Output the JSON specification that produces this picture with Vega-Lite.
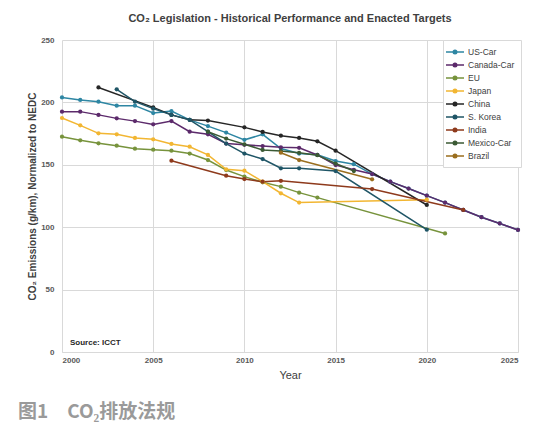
{
  "$schema": "https://vega.github.io/schema/vega-lite/v6.json",
  "width": 456,
  "height": 312,
  "autosize": "none",
  "padding": {"left": 62, "top": 40, "right": 38, "bottom": 83},
  "background": "white",
  "config": {
    "font": "Liberation Sans",
    "view": {"stroke": null},
    "axis": {"gridColor": "#d9d9d9", "gridWidth": 1, "domainColor": "#d9d9d9", "ticks": false, "labelColor": "#595959", "labelFontSize": 8, "labelFontWeight": "bold"}
  },
  "title": {
    "text": "CO₂ Legislation - Historical Performance and Enacted Targets",
    "fontSize": 11,
    "fontWeight": "bold",
    "color": "#404040",
    "anchor": "middle",
    "offset": 12
  },
  "datasets": {
    "d": [
      {"c": "US-Car", "year": 2000, "v": 204},
      {"c": "US-Car", "year": 2001, "v": 202},
      {"c": "US-Car", "year": 2002, "v": 200.6},
      {"c": "US-Car", "year": 2003, "v": 197.4},
      {"c": "US-Car", "year": 2004, "v": 197.4},
      {"c": "US-Car", "year": 2005, "v": 191.5},
      {"c": "US-Car", "year": 2006, "v": 193},
      {"c": "US-Car", "year": 2007, "v": 186},
      {"c": "US-Car", "year": 2008, "v": 181},
      {"c": "US-Car", "year": 2009, "v": 175.8},
      {"c": "US-Car", "year": 2010, "v": 170},
      {"c": "US-Car", "year": 2011, "v": 174.4},
      {"c": "US-Car", "year": 2012, "v": 163},
      {"c": "US-Car", "year": 2013, "v": 159},
      {"c": "US-Car", "year": 2014, "v": 158},
      {"c": "US-Car", "year": 2015, "v": 153},
      {"c": "US-Car", "year": 2016, "v": 150.5},
      {"c": "US-Car", "year": 2017, "v": 142.6},
      {"c": "US-Car", "year": 2018, "v": 136.5},
      {"c": "US-Car", "year": 2019, "v": 131},
      {"c": "US-Car", "year": 2020, "v": 125.3},
      {"c": "US-Car", "year": 2021, "v": 119.7},
      {"c": "US-Car", "year": 2022, "v": 113.8},
      {"c": "US-Car", "year": 2023, "v": 108},
      {"c": "US-Car", "year": 2024, "v": 103},
      {"c": "US-Car", "year": 2025, "v": 97.8},
      {"c": "Canada-Car", "year": 2000, "v": 192.6},
      {"c": "Canada-Car", "year": 2001, "v": 192.6},
      {"c": "Canada-Car", "year": 2002, "v": 190},
      {"c": "Canada-Car", "year": 2003, "v": 187.2},
      {"c": "Canada-Car", "year": 2004, "v": 185},
      {"c": "Canada-Car", "year": 2005, "v": 182.4},
      {"c": "Canada-Car", "year": 2006, "v": 185},
      {"c": "Canada-Car", "year": 2007, "v": 176.5},
      {"c": "Canada-Car", "year": 2008, "v": 174.4},
      {"c": "Canada-Car", "year": 2009, "v": 167},
      {"c": "Canada-Car", "year": 2010, "v": 166},
      {"c": "Canada-Car", "year": 2011, "v": 165},
      {"c": "Canada-Car", "year": 2012, "v": 164},
      {"c": "Canada-Car", "year": 2013, "v": 163.6},
      {"c": "Canada-Car", "year": 2014, "v": 157.9},
      {"c": "Canada-Car", "year": 2015, "v": 149.8},
      {"c": "Canada-Car", "year": 2016, "v": 146},
      {"c": "Canada-Car", "year": 2017, "v": 142.6},
      {"c": "Canada-Car", "year": 2018, "v": 136.5},
      {"c": "Canada-Car", "year": 2019, "v": 131},
      {"c": "Canada-Car", "year": 2020, "v": 125.3},
      {"c": "Canada-Car", "year": 2021, "v": 119.7},
      {"c": "Canada-Car", "year": 2022, "v": 113.8},
      {"c": "Canada-Car", "year": 2023, "v": 108},
      {"c": "Canada-Car", "year": 2024, "v": 103},
      {"c": "Canada-Car", "year": 2025, "v": 97.8},
      {"c": "EU", "year": 2000, "v": 172.5},
      {"c": "EU", "year": 2001, "v": 169.6},
      {"c": "EU", "year": 2002, "v": 167.2},
      {"c": "EU", "year": 2003, "v": 165.3},
      {"c": "EU", "year": 2004, "v": 162.9},
      {"c": "EU", "year": 2005, "v": 162.1},
      {"c": "EU", "year": 2006, "v": 161.3},
      {"c": "EU", "year": 2007, "v": 159},
      {"c": "EU", "year": 2008, "v": 153.8},
      {"c": "EU", "year": 2009, "v": 145.8},
      {"c": "EU", "year": 2010, "v": 140.5},
      {"c": "EU", "year": 2011, "v": 136},
      {"c": "EU", "year": 2012, "v": 132.5},
      {"c": "EU", "year": 2013, "v": 127.7},
      {"c": "EU", "year": 2014, "v": 123.7},
      {"c": "EU", "year": 2021, "v": 95},
      {"c": "Japan", "year": 2000, "v": 187.5},
      {"c": "Japan", "year": 2001, "v": 181.6},
      {"c": "Japan", "year": 2002, "v": 175.2},
      {"c": "Japan", "year": 2003, "v": 174.4},
      {"c": "Japan", "year": 2004, "v": 171.5},
      {"c": "Japan", "year": 2005, "v": 170.4},
      {"c": "Japan", "year": 2006, "v": 166.7},
      {"c": "Japan", "year": 2007, "v": 164.5},
      {"c": "Japan", "year": 2008, "v": 157.9},
      {"c": "Japan", "year": 2009, "v": 146.4},
      {"c": "Japan", "year": 2010, "v": 145.3},
      {"c": "Japan", "year": 2011, "v": 136.5},
      {"c": "Japan", "year": 2012, "v": 127.2},
      {"c": "Japan", "year": 2013, "v": 119.7},
      {"c": "Japan", "year": 2020, "v": 122},
      {"c": "China", "year": 2002, "v": 212},
      {"c": "China", "year": 2005, "v": 196},
      {"c": "China", "year": 2006, "v": 190},
      {"c": "China", "year": 2007, "v": 186},
      {"c": "China", "year": 2008, "v": 185.4},
      {"c": "China", "year": 2010, "v": 180},
      {"c": "China", "year": 2011, "v": 176.3},
      {"c": "China", "year": 2012, "v": 173.3},
      {"c": "China", "year": 2013, "v": 171.5},
      {"c": "China", "year": 2014, "v": 168.8},
      {"c": "China", "year": 2015, "v": 161.3},
      {"c": "China", "year": 2020, "v": 117.8},
      {"c": "S. Korea", "year": 2003, "v": 210.5},
      {"c": "S. Korea", "year": 2004, "v": 200.6},
      {"c": "S. Korea", "year": 2005, "v": 195},
      {"c": "S. Korea", "year": 2006, "v": 190},
      {"c": "S. Korea", "year": 2007, "v": 186},
      {"c": "S. Korea", "year": 2008, "v": 176.5},
      {"c": "S. Korea", "year": 2009, "v": 167},
      {"c": "S. Korea", "year": 2010, "v": 159},
      {"c": "S. Korea", "year": 2011, "v": 154.6},
      {"c": "S. Korea", "year": 2012, "v": 147.2},
      {"c": "S. Korea", "year": 2013, "v": 147.2},
      {"c": "S. Korea", "year": 2015, "v": 145},
      {"c": "S. Korea", "year": 2020, "v": 98},
      {"c": "India", "year": 2006, "v": 153.3},
      {"c": "India", "year": 2009, "v": 141.3},
      {"c": "India", "year": 2010, "v": 138.6},
      {"c": "India", "year": 2011, "v": 136.5},
      {"c": "India", "year": 2012, "v": 137.2},
      {"c": "India", "year": 2017, "v": 130.6},
      {"c": "India", "year": 2022, "v": 113.8},
      {"c": "Mexico-Car", "year": 2008, "v": 176.5},
      {"c": "Mexico-Car", "year": 2009, "v": 171},
      {"c": "Mexico-Car", "year": 2010, "v": 166.4},
      {"c": "Mexico-Car", "year": 2011, "v": 161.9},
      {"c": "Mexico-Car", "year": 2012, "v": 161},
      {"c": "Mexico-Car", "year": 2013, "v": 159.6},
      {"c": "Mexico-Car", "year": 2014, "v": 157.7},
      {"c": "Mexico-Car", "year": 2015, "v": 151},
      {"c": "Mexico-Car", "year": 2016, "v": 145},
      {"c": "Brazil", "year": 2012, "v": 159.7},
      {"c": "Brazil", "year": 2013, "v": 153.8},
      {"c": "Brazil", "year": 2017, "v": 138.4}
    ],
    "notes": [
      {"label": "Source: ICCT", "year": 2000, "v": 0}
    ],
    "caption": [
      {"label": "图1\u2003CO₂排放法规", "year": 2000, "v": 0}
    ]
  },
  "layer": [
    {
      "data": {"name": "d"},
      "mark": {"type": "line", "strokeWidth": 1.5, "point": {"filled": true, "size": 18}},
      "encoding": {
        "x": {
          "field": "year", "type": "quantitative",
          "scale": {"domain": [2000, 2025], "nice": false, "zero": false},
          "axis": {"values": [2000, 2005, 2010, 2015, 2020, 2025], "format": "d", "title": "Year", "titleFontSize": 11, "titleFontWeight": "normal", "titleColor": "#404040", "titlePadding": 5, "labelPadding": 4}
        },
        "y": {
          "field": "v", "type": "quantitative",
          "scale": {"domain": [0, 250], "nice": false},
          "axis": {"values": [0, 50, 100, 150, 200, 250], "title": "CO₂ Emissions (g/km), Normalized to NEDC", "titleFontSize": 10, "titleFontWeight": "bold", "titleColor": "#404040", "titlePadding": 3, "labelPadding": 8, "domain": false}
        },
        "color": {
          "field": "c", "type": "nominal",
          "scale": {
            "domain": ["US-Car", "Canada-Car", "EU", "Japan", "China", "S. Korea", "India", "Mexico-Car", "Brazil"],
            "range": ["#2e86a3", "#5c2a6b", "#77933c", "#f2b632", "#262626", "#1f5566", "#8e3a1c", "#3b5a34", "#9a6e1e"]
          },
          "legend": {
            "title": null,
            "orient": "none",
            "legendX": 381,
            "legendY": 0,
            "padding": 6,
            "strokeColor": "#d9d9d9",
            "fillColor": "white",
            "labelFontSize": 8.5,
            "labelColor": "#404040",
            "rowPadding": 2,
            "symbolType": "M-1.8,0H1.8M-0.35,0a0.35,0.35 0 1,0 0.7,0a0.35,0.35 0 1,0 -0.7,0",
            "symbolSize": 100,
            "symbolStrokeWidth": 1.5,
            "labelOffset": 7,
            "offset": 0
          }
        },
        "order": {"field": "year", "type": "quantitative"}
      }
    },
    {
      "data": {"name": "notes"},
      "mark": {"type": "text", "align": "left", "baseline": "middle", "dx": 8, "dy": -9, "fontSize": 8, "fontWeight": "bold", "color": "#262626"},
      "encoding": {
        "x": {"field": "year", "type": "quantitative"},
        "y": {"field": "v", "type": "quantitative"},
        "text": {"field": "label"}
      }
    },
    {
      "data": {"name": "caption"},
      "mark": {"type": "text", "align": "left", "baseline": "middle", "dx": -44, "dy": 60, "fontSize": 19, "fontWeight": "bold", "color": "#9a9a9a", "font": "Noto Sans CJK SC"},
      "encoding": {
        "x": {"field": "year", "type": "quantitative"},
        "y": {"field": "v", "type": "quantitative"},
        "text": {"field": "label"}
      }
    }
  ]
}
